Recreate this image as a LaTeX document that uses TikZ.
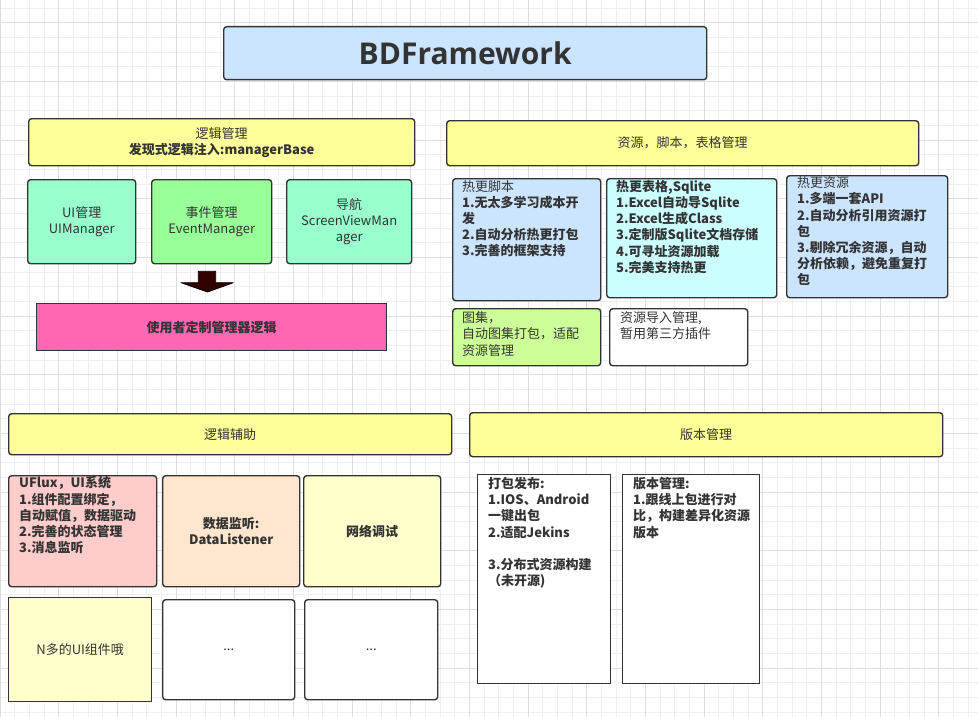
\documentclass[tikz,border=0pt]{standalone}
\usepackage{fontspec}
\setmainfont{Noto Sans CJK SC}
\newfontfamily\titlefont{Open Sans}
\definecolor{ink}{HTML}{333333}
\definecolor{blueA}{HTML}{CCE5FF}
\definecolor{yellowA}{HTML}{FFFF99}
\definecolor{mintA}{HTML}{99FFCC}
\definecolor{greenA}{HTML}{99FF99}
\definecolor{pinkA}{HTML}{FF66B3}
\definecolor{cyanA}{HTML}{CCFFFF}
\definecolor{limeA}{HTML}{CCFF99}
\definecolor{roseA}{HTML}{FFCCCC}
\definecolor{peachA}{HTML}{FFE6CC}
\definecolor{creamA}{HTML}{FFFFCC}
\definecolor{arrowc}{HTML}{330000}
\definecolor{gridminor}{HTML}{EFEFEF}
\definecolor{gridmajor}{HTML}{DEDEDE}
\begin{document}
\begin{tikzpicture}[x=1pt,y=-1pt,
  box/.style={draw=ink, line width=1.4pt, rounded corners=3pt, inner sep=0pt,
    anchor=north west, text=ink, align=center,
    font=\fontsize{13}{16.2}\selectfont},
  sqbox/.style={box, sharp corners},
  txt/.style={anchor=north west, inner sep=0pt, align=left, text=ink,
    font=\fontsize{13}{16.2}\selectfont},
  minorline/.style={draw=gridminor, line width=0.8pt},
  majorline/.style={draw=gridmajor, line width=0.8pt}]
\fill[white] (0,0) rectangle (978,717);
\useasboundingbox (0,0) rectangle (978,717);
% grid
\foreach \i in {0,...,67} { \draw[minorline] ({\i*14.67},0) -- ({\i*14.67},717); }
\foreach \j in {0,...,49} { \draw[minorline] (0,{8+\j*14.67}) -- (978,{8+\j*14.67}); }
\foreach \i in {0,...,16} { \draw[majorline] ({\i*58.68},0) -- ({\i*58.68},717); }
\foreach \j in {0,...,12} { \draw[majorline] (0,{22.7+\j*58.68}) -- (978,{22.7+\j*58.68}); }

% title
\node[box, fill=blueA, minimum width=483, minimum height=53] (title) at (223,26)
  {\titlefont\bfseries\fontsize{30}{34}\selectfont BDFramework};

% left top group
\node[box, fill=yellowA, minimum width=386, minimum height=47] (logic) at (28,118)
  {逻辑管理\\\textbf{发现式逻辑注入:managerBase}};
\node[box, fill=mintA, minimum width=108, minimum height=84] (uimgr) at (27,179)
  {UI管理\\UIManager};
\node[box, fill=greenA, minimum width=120, minimum height=84] (evmgr) at (151,179)
  {事件管理\\EventManager};
\node[box, fill=mintA, minimum width=125, minimum height=84] (navmgr) at (286,179)
  {导航\\ScreenViewMan\\ager};
\fill[fill=arrowc, draw=black, line width=0.8pt, line join=round]
  (198.3,271.3) -- (215.7,271.3) -- (215.7,282.7) -- (233.3,282.7) -- (207.5,292)
  -- (181,282.7) -- (198.3,282.7) -- cycle;
\node[sqbox, fill=pinkA, minimum width=350, minimum height=47] (custom) at (36,303)
  {\textbf{使用者定制管理器逻辑}};

% right top group
\node[box, fill=yellowA, minimum width=472, minimum height=45] (res) at (446,120)
  {资源，脚本，表格管理};
\node[box, fill=blueA, minimum width=148, minimum height=122] (hotscript) at (452,178) {};
\node[txt] (hotscripttxt) at (462,180)
  {热更脚本\\\textbf{1.无太多学习成本开}\\\textbf{发}\\\textbf{2.自动分析热更打包}\\\textbf{3.完善的框架支持}};
\node[box, fill=cyanA, minimum width=170, minimum height=119] (hottable) at (606,178) {};
\node[txt] (hottabletxt) at (616,180)
  {\textbf{热更表格,Sqlite}\\\textbf{1.Excel自动导Sqlite}\\\textbf{2.Excel生成Class}\\\textbf{3.定制版Sqlite文档存储}\\\textbf{4.可寻址资源加载}\\\textbf{5.完美支持热更}};
\node[box, fill=blueA, minimum width=161, minimum height=122] (hotres) at (786,175) {};
\node[txt] (hotrestxt) at (797,176.5)
  {热更资源\\\textbf{1.多端一套API}\\\textbf{2.自动分析引用资源打}\\\textbf{包}\\\textbf{3.剔除冗余资源，自动}\\\textbf{分析依赖，避免重复打}\\\textbf{包}};
\node[box, fill=limeA, minimum width=148, minimum height=57] (atlas) at (452,308) {};
\node[txt] (atlastxt) at (462,311.5)
  {图集，\\自动图集打包，适配\\资源管理};
\node[box, fill=white, minimum width=138, minimum height=57] (import) at (609,308) {};
\node[txt] (importtxt) at (620,311.5)
  {资源导入管理,\\暂用第三方插件};

% left bottom group
\node[box, fill=yellowA, minimum width=443, minimum height=41] (assist) at (8,413)
  {逻辑辅助};
\node[box, fill=roseA, minimum width=148, minimum height=111] (uflux) at (8,475) {};
\node[txt] (ufluxtxt) at (19,476.5)
  {\textbf{UFlux，UI系统}\\\textbf{1.组件配置绑定，}\\\textbf{自动赋值，数据驱动}\\\textbf{2.完善的状态管理}\\\textbf{3.消息监听}};
\node[box, fill=peachA, minimum width=137, minimum height=111] (datal) at (162,475)
  {\textbf{数据监听:}\\\textbf{DataListener}};
\node[box, fill=creamA, minimum width=137, minimum height=111] (net) at (303,475)
  {\textbf{网络调试}};
\node[sqbox, fill=creamA, minimum width=143, minimum height=104] (ncomp) at (8,597)
  {N多的UI组件哦};
\node[box, fill=white, minimum width=132, minimum height=100] (dotsa) at (162,599) {...};
\node[box, fill=white, minimum width=133, minimum height=100] (dotsb) at (304,599) {...};

% right bottom group
\node[box, fill=yellowA, minimum width=473, minimum height=44] (version) at (469,412)
  {版本管理};
\node[sqbox, fill=white, minimum width=133, minimum height=209] (pack) at (477,474) {};
\node[txt] (packtxt) at (488,477)
  {\textbf{打包发布:}\\\textbf{1.IOS、Android}\\\textbf{一键出包}\\\textbf{2.适配Jekins}\\[16.2pt]\textbf{3.分布式资源构建}\\\textbf{（未开源)}};
\node[sqbox, fill=white, minimum width=137, minimum height=209] (vers) at (622,474) {};
\node[txt] (verstxt) at (633,477)
  {\textbf{版本管理:}\\\textbf{1.跟线上包进行对}\\\textbf{比，构建差异化资源}\\\textbf{版本}};
\end{tikzpicture}
\end{document}
